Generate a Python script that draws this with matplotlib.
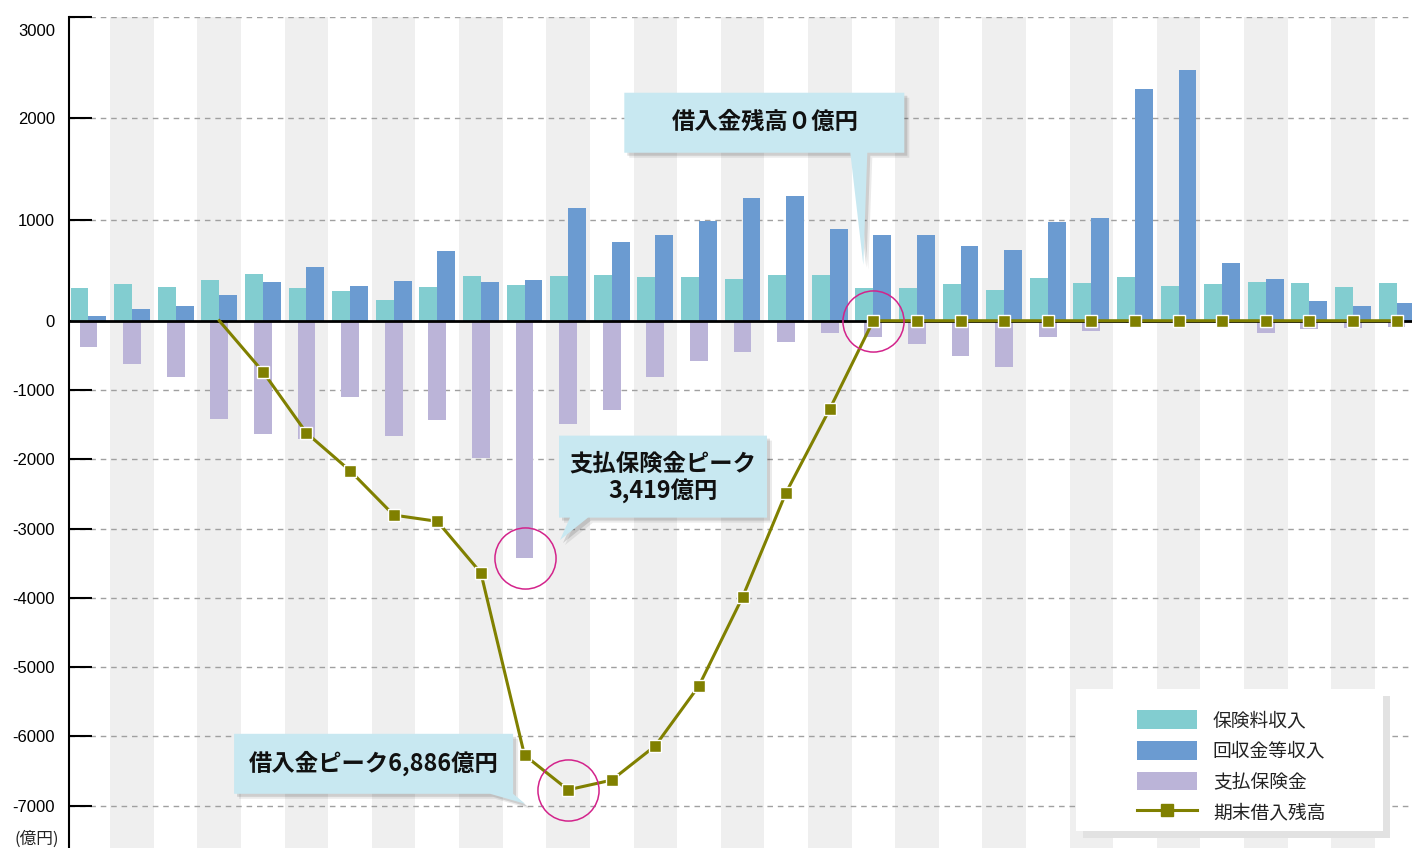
# IMPORTS
import numpy as np
import matplotlib
matplotlib.use("Agg")
import matplotlib.pyplot as plt
from matplotlib.patches import Patch, Polygon, Rectangle
from matplotlib.lines import Line2D
from matplotlib.transforms import Affine2D, ScaledTranslation

# CONSTANTS
WIDTH = 1412
HEIGHT = 848
DPI = 100

TEAL = "#82cdd0"
BLUE = "#6b9bd1"
PURPLE = "#bbb4d8"
OLIVE = "#808000"
MAGENTA = "#d3238b"
STRIPE = "#efefef"
CALLOUT = "#c8e8f1"
GRID = "#a0a0a0"

NEG_RATIO = 0.685  # negative side of the y axis is drawn squeezed
BAR_W = 0.41

# DATA (億円)
premium = [326, 365, 335, 405, 464, 326, 293, 204, 333, 441, 352, 441, 451, 431, 432, 412,
           451, 451, 323, 323, 363, 303, 422, 375, 434, 345, 365, 385, 375, 333, 375]
recovered = [50, 118, 148, 257, 385, 530, 342, 392, 688, 382, 402, 1113, 777, 846, 986, 1214,
             1233, 907, 847, 847, 737, 698, 977, 1017, 2290, 2479, 570, 412, 195, 145, 175]
paid = [-385, -630, -807, -1414, -1640, -1700, -1099, -1661, -1426, -1988, -3419, -1488, -1286,
        -809, -577, -447, -303, -173, -231, -332, -506, -664, -231, -144, -33, -5, -35, -173,
        -115, -100, -95]
debt = [np.nan, np.nan, np.nan, 0, -735, -1620, -2165, -2805, -2895, -3640, -6270, -6770,
        -6630, -6135, -5270, -3990, -2480, -1275, 0, 0, 0, 0, 0, 0, 0, 0, 0, 0, 0, 0, 0]

series_labels = ["保険料収入", "回収金等収入", "支払保険金", "期末借入残高"]
y_ticks = [3000, 2000, 1000, 0, -1000, -2000, -3000, -4000, -5000, -6000, -7000]
y_tick_labels = ["3000", "2000", "1000", "0", "-1000", "-2000", "-3000", "-4000", "-5000",
                 "-6000", "-7000"]
unit_label = "(億円)"

callout_texts = ["借入金残高０億円", "支払保険金ピーク\n3,419億円", "借入金ピーク6,886億円"]

plt.rcParams["font.family"] = ["Noto Sans CJK JP", "DejaVu Sans"]


# FUNCTIONS
def forward(y):
    y = np.asarray(y, dtype=float)
    return np.where(y < 0, y * NEG_RATIO, y)


def inverse(y):
    y = np.asarray(y, dtype=float)
    return np.where(y < 0, y / NEG_RATIO, y)


def pixel_trans(fig, ax, x, y):
    # offsets in pixels (y up) around a data point
    return Affine2D().scale(1 / DPI) + fig.dpi_scale_trans + ScaledTranslation(x, y, ax.transData)


def draw_callout(fig, ax, anchor, tip, box, base, text, text_at):
    left, right, bottom, top = box
    verts = [(left, bottom), (base[0], bottom), tip, (base[1], bottom), (right, bottom),
             (right, top), (left, top)]
    trans = pixel_trans(fig, ax, *anchor)
    for off, alpha in [((5, -5), 0.08), ((3, -3), 0.12)]:
        ax.add_patch(Polygon(verts, closed=True, facecolor="black", edgecolor="none", alpha=alpha,
                             transform=Affine2D().translate(*off) + trans, zorder=8, clip_on=False))
    ax.add_patch(Polygon(verts, closed=True, facecolor=CALLOUT, edgecolor="none",
                         transform=trans, zorder=8, clip_on=False))
    ax.text(text_at[0], text_at[1], text, transform=trans, ha="center", va="center",
            fontsize=16.8, fontweight="bold", color="#111111", linespacing=1.15, zorder=9)


def axes_frac(px, py):
    return (px - 69) / (WIDTH - 69), (HEIGHT - py) / (HEIGHT - 17.3)


# MAIN CODE
fig = plt.figure(figsize=(WIDTH / DPI, HEIGHT / DPI), dpi=DPI, facecolor="white")
ax = fig.add_axes([69 / WIDTH, 0, 1 - 69 / WIDTH, (HEIGHT - 17.3) / HEIGHT])
ax.set_yscale("function", functions=(forward, inverse))

x = np.arange(len(premium))
ax.set_xlim(-0.447, 30.355)
ax.set_ylim(-7610, 3000)

# striped background
for i in x[1::2]:
    ax.axvspan(i - 0.5, i + 0.5, color=STRIPE, lw=0, zorder=0)

# dashed grid
for v in y_ticks:
    if v != 0:
        ax.axhline(v, color=GRID, lw=1.0, dashes=(4, 3.5), zorder=1)

ax.bar(x, premium, width=-BAR_W, align="edge", color=TEAL, zorder=2)
ax.bar(x, recovered, width=BAR_W, align="edge", color=BLUE, zorder=2)
ax.bar(x, paid, width=BAR_W, align="center", color=PURPLE, zorder=2)

ax.axhline(0, color="black", lw=2, zorder=3)

ax.plot(x, debt, color=OLIVE, lw=2.2, marker="s", ms=8.6, mfc=OLIVE, mec="white", mew=1,
        markevery=list(range(4, len(debt))), zorder=5)

# highlight circles
for cx, cy in [(10, paid[10]), (11, debt[11]), (18, debt[18])]:
    ax.plot([cx], [cy], marker="o", ms=44, mfc="none", mec=MAGENTA, mew=1.1, zorder=7,
            clip_on=False)

# callouts (shapes in pixels around the circled points)
draw_callout(fig, ax, (18, debt[18]), (-10, 56), (-249, 31, 168, 228), (-23, -6),
             callout_texts[0], (-108, 199))
draw_callout(fig, ax, (10, paid[10]), (35.5, 17.6), (34.5, 242.5, 40, 122), (45.5, 63.5),
             callout_texts[1], (138.5, 80))
draw_callout(fig, ax, (11, debt[11]), (-43, -14), (-334, -55, -4, 56), (-78, -55),
             callout_texts[2], (-194.5, 26))

# axes styling
for side in ["top", "right", "bottom"]:
    ax.spines[side].set_visible(False)
ax.spines["left"].set_linewidth(1.5)
ax.set_xticks([])
ax.set_yticks(y_ticks)
ax.set_yticklabels(y_tick_labels, family="Liberation Sans", fontsize=12)
ax.tick_params(axis="y", direction="in", length=16.5, width=1.5, pad=10, colors="black")
for tick in ax.yaxis.get_major_ticks():
    if tick.get_loc() == max(y_ticks):
        tick.label1.set_transform(tick.label1.get_transform() +
                                  ScaledTranslation(0, -13 / DPI, fig.dpi_scale_trans))

fig.text(37 / WIDTH, 1 - 839 / HEIGHT, unit_label, ha="center", va="center", fontsize=12,
         color="#222222")

# legend with shadowed box
bx0, by0 = axes_frac(1076, 831)
bx1, by1 = axes_frac(1383, 689)
sdx, sdy = 7 / (WIDTH - 69), 7 / (HEIGHT - 17.3)
ax.add_patch(Rectangle((bx0 + sdx, by0 - sdy), bx1 - bx0, by1 - by0, transform=ax.transAxes,
                       facecolor="#e2e2e2", edgecolor="none", zorder=10, clip_on=False))
ax.add_patch(Rectangle((bx0, by0), bx1 - bx0, by1 - by0, transform=ax.transAxes,
                       facecolor="white", edgecolor="none", zorder=11, clip_on=False))

handles = [Patch(facecolor=TEAL), Patch(facecolor=BLUE), Patch(facecolor=PURPLE),
           Line2D([], [], color=OLIVE, lw=2.2, marker="s", ms=8.6, mfc=OLIVE, mec=OLIVE)]
leg = ax.legend(handles, series_labels, loc="upper left", bbox_to_anchor=axes_frac(1137, 710),
                frameon=False, fontsize=13.5, handlelength=3.2, handleheight=1.15,
                handletextpad=0.85, labelspacing=0.52, borderpad=0, borderaxespad=0,
                numpoints=1)
leg.set_zorder(12)
for t in leg.get_texts():
    t.set_color("#222222")

fig.savefig("out.png", dpi=DPI, facecolor="white")
plt.close(fig)
